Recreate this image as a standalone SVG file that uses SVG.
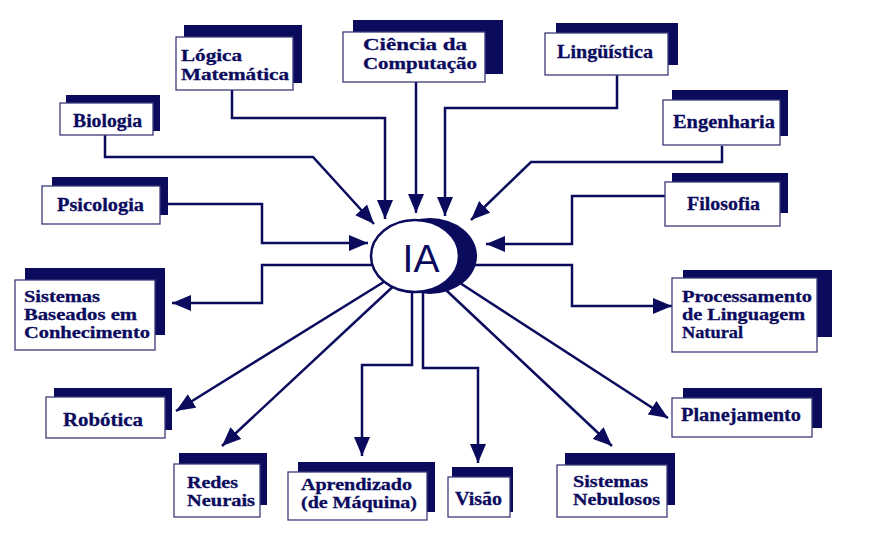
<svg xmlns="http://www.w3.org/2000/svg" width="871" height="542" viewBox="0 0 871 542">
  <style>
    .shadow { fill: #0b0b5e; }
    .box { fill: #ffffff; stroke: #3b3b78; stroke-width: 1.3; }
    .lbl { font-family: "Liberation Serif", "Times New Roman", serif; font-weight: bold; font-size: 18px; fill: #0b0b5e; stroke: #0b0b5e; stroke-width: 0.3; }
    .lbl2 { font-size: 16px; }
    .wire { fill: none; stroke: #0b0b5e; stroke-width: 2.5; marker-end: url(#head); }
  </style>
  <defs>
    <marker id="head" markerUnits="userSpaceOnUse" markerWidth="20" markerHeight="16" refX="19" refY="8" orient="auto">
      <path d="M0,0 L19,8 L0,16 Z" fill="#0b0b5e"/>
    </marker>
  </defs>
  <rect width="871" height="542" fill="#ffffff"/>

  <!-- connectors -->
  <g id="connectors">
    <polyline class="wire" points="232,90 232,118 385,118 385,219"/>
    <polyline class="wire" points="416,82 416,213"/>
    <polyline class="wire" points="617,75 617,108 445,108 445,216"/>
    <polyline class="wire" points="105,135 105,157 313,157 374,224"/>
    <polyline class="wire" points="160,204 262,204 262,243 368,243"/>
    <polyline class="wire" points="722,146 722,162 531,162 471,220"/>
    <polyline class="wire" points="665,196 572,196 572,244 486,244"/>
    <polyline class="wire" points="400,265 262,265 262,303 172,303"/>
    <polyline class="wire" points="440,265 572,265 572,306 672,306"/>
    <polyline class="wire" points="395,275 176,411"/>
    <polyline class="wire" points="400,280 222,446"/>
    <polyline class="wire" points="412,280 412,365 362,365 362,456"/>
    <polyline class="wire" points="423,280 423,368 478,368 478,463"/>
    <polyline class="wire" points="430,275 612,446"/>
    <polyline class="wire" points="440,270 668,418"/>
  </g>

  <!-- central node -->
  <g id="ia">
    <ellipse cx="430" cy="256" rx="47" ry="38" class="shadow"/>
    <ellipse cx="415" cy="256" rx="44" ry="36" fill="#ffffff" stroke="#0b0b5e" stroke-width="2.5"/>
    <text x="421" y="272" text-anchor="middle" font-family="Liberation Sans, Arial, sans-serif" font-size="39" fill="#0b0b5e">IA</text>
  </g>

  <g id="logica">
    <rect class="shadow" x="184" y="25" width="118" height="58"/>
    <rect class="box" x="176" y="37" width="117" height="53"/>
    <text class="lbl lbl2" x="181" y="61" textLength="61" lengthAdjust="spacingAndGlyphs">Lógica</text>
    <text class="lbl lbl2" x="181" y="80" textLength="108" lengthAdjust="spacingAndGlyphs">Matemática</text>
  </g>

  <g id="ciencia">
    <rect class="shadow" x="353" y="20" width="150" height="54"/>
    <rect class="box" x="343" y="32" width="142" height="50"/>
    <text class="lbl lbl2" x="363" y="50" textLength="104" lengthAdjust="spacingAndGlyphs">Ciência da</text>
    <text class="lbl lbl2" x="363" y="69" textLength="114" lengthAdjust="spacingAndGlyphs">Computação</text>
  </g>

  <g id="linguistica">
    <rect class="shadow" x="556" y="23" width="122" height="42"/>
    <rect class="box" x="545" y="33" width="123" height="42"/>
    <text class="lbl" x="557" y="58" textLength="96" lengthAdjust="spacingAndGlyphs">Lingüística</text>
  </g>

  <g id="biologia">
    <rect class="shadow" x="66" y="95" width="94" height="36"/>
    <rect class="box" x="60" y="103" width="93" height="32"/>
    <text class="lbl" x="73" y="127" textLength="69" lengthAdjust="spacingAndGlyphs">Biologia</text>
  </g>

  <g id="engenharia">
    <rect class="shadow" x="672" y="90" width="116" height="46"/>
    <rect class="box" x="663" y="100" width="117" height="45"/>
    <text class="lbl" x="673" y="128" textLength="102" lengthAdjust="spacingAndGlyphs">Engenharia</text>
  </g>

  <g id="psicologia">
    <rect class="shadow" x="52" y="177" width="116" height="38"/>
    <rect class="box" x="42" y="186" width="118" height="38"/>
    <text class="lbl" x="57" y="211" textLength="87" lengthAdjust="spacingAndGlyphs">Psicologia</text>
  </g>

  <g id="filosofia">
    <rect class="shadow" x="672" y="173" width="116" height="40"/>
    <rect class="box" x="665" y="182" width="115" height="44"/>
    <text class="lbl" x="687" y="210" textLength="73" lengthAdjust="spacingAndGlyphs">Filosofia</text>
  </g>

  <g id="sbc">
    <rect class="shadow" x="25" y="268" width="140" height="67"/>
    <rect class="box" x="15" y="280" width="140" height="70"/>
    <text class="lbl lbl2" x="24" y="302" textLength="76" lengthAdjust="spacingAndGlyphs">Sistemas</text>
    <text class="lbl lbl2" x="24" y="320" textLength="113" lengthAdjust="spacingAndGlyphs">Baseados em</text>
    <text class="lbl lbl2" x="24" y="338" textLength="126" lengthAdjust="spacingAndGlyphs">Conhecimento</text>
  </g>

  <g id="pln">
    <rect class="shadow" x="683" y="270" width="149" height="67"/>
    <rect class="box" x="672" y="278" width="145" height="74"/>
    <text class="lbl lbl2" x="682" y="302" textLength="130" lengthAdjust="spacingAndGlyphs">Processamento</text>
    <text class="lbl lbl2" x="682" y="320" textLength="123" lengthAdjust="spacingAndGlyphs">de Linguagem</text>
    <text class="lbl lbl2" x="682" y="338" textLength="61" lengthAdjust="spacingAndGlyphs">Natural</text>
  </g>

  <g id="robotica">
    <rect class="shadow" x="54" y="388" width="118" height="42"/>
    <rect class="box" x="46" y="397" width="119" height="41"/>
    <text class="lbl" x="63" y="426" textLength="80" lengthAdjust="spacingAndGlyphs">Robótica</text>
  </g>

  <g id="planejamento">
    <rect class="shadow" x="683" y="388" width="139" height="40"/>
    <rect class="box" x="672" y="398" width="140" height="39"/>
    <text class="lbl" x="681" y="421" textLength="120" lengthAdjust="spacingAndGlyphs">Planejamento</text>
  </g>

  <g id="redes">
    <rect class="shadow" x="179" y="453" width="88" height="52"/>
    <rect class="box" x="174" y="464" width="86" height="53"/>
    <text class="lbl lbl2" x="187" y="488" textLength="51" lengthAdjust="spacingAndGlyphs">Redes</text>
    <text class="lbl lbl2" x="187" y="506" textLength="68" lengthAdjust="spacingAndGlyphs">Neurais</text>
  </g>

  <g id="aprendizado">
    <rect class="shadow" x="298" y="462" width="137" height="50"/>
    <rect class="box" x="288" y="472" width="139" height="48"/>
    <text class="lbl lbl2" x="301" y="490" textLength="111" lengthAdjust="spacingAndGlyphs">Aprendizado</text>
    <text class="lbl lbl2" x="301" y="508" textLength="116" lengthAdjust="spacingAndGlyphs">(de Máquina)</text>
  </g>

  <g id="visao">
    <rect class="shadow" x="452" y="467" width="61" height="45"/>
    <rect class="box" x="448" y="477" width="62" height="40"/>
    <text class="lbl" x="455" y="505" textLength="47" lengthAdjust="spacingAndGlyphs">Visão</text>
  </g>

  <g id="nebulosos">
    <rect class="shadow" x="565" y="453" width="110" height="52"/>
    <rect class="box" x="557" y="465" width="110" height="52"/>
    <text class="lbl lbl2" x="573" y="487" textLength="75" lengthAdjust="spacingAndGlyphs">Sistemas</text>
    <text class="lbl lbl2" x="573" y="505" textLength="87" lengthAdjust="spacingAndGlyphs">Nebulosos</text>
  </g>
</svg>
